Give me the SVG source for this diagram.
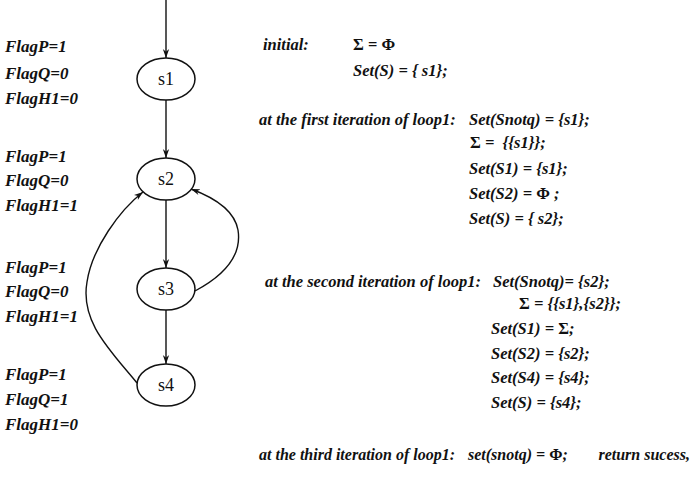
<svg xmlns="http://www.w3.org/2000/svg" width="699" height="482" viewBox="0 0 699 482">
<style>
.flag{font-family:'Liberation Serif','Times New Roman',serif;font-style:italic;font-weight:bold;font-size:17px;fill:#111}
.t{font-family:'Liberation Serif','Times New Roman',serif;font-style:italic;font-weight:bold;font-size:16.5px;fill:#111}
.t3{font-size:16px}
.sym{font-style:normal;font-weight:bold}
.node ellipse{fill:#fff;stroke:#111;stroke-width:1.5}
.node text{font-family:'Liberation Serif','Times New Roman',serif;font-size:18px;fill:#111;text-anchor:middle}
.edge{fill:none;stroke:#111;stroke-width:1.4;marker-end:url(#ah)}
</style>
<defs>
<marker id="ah" viewBox="0 0 10 10" refX="10" refY="5" markerWidth="9" markerHeight="9" markerUnits="userSpaceOnUse" orient="auto">
<path d="M0,1.5 L10,5 L0,8.5 L3,5 Z" fill="#111"/>
</marker>
</defs>
<g id="connectors">
<path class="edge" d="M166,0 L166,58"/>
<path class="edge" d="M166,100 L166,158"/>
<path class="edge" d="M166,200 L166,268"/>
<path class="edge" d="M166,310 L166,364"/>
<path class="edge" d="M137,383 C110,350 80,322 87,282 C92,248 120,210 143,192"/>
<path class="edge" d="M195,291 C225,275 242,255 238,230 C234,208 210,196 191,189"/>
</g>
<g id="s1" class="node"><ellipse cx="166" cy="79" rx="29" ry="21"/><text x="166" y="85">s1</text></g>
<g id="s2" class="node"><ellipse cx="166" cy="179" rx="29" ry="21"/><text x="166" y="185">s2</text></g>
<g id="s3" class="node"><ellipse cx="166" cy="289" rx="29" ry="21"/><text x="166" y="295">s3</text></g>
<g id="s4" class="node"><ellipse cx="166" cy="385" rx="29" ry="21"/><text x="166" y="391">s4</text></g>
<g id="flags">
<text class="flag" x="5" y="52">FlagP=1</text>
<text class="flag" x="5" y="79">FlagQ=0</text>
<text class="flag" x="5" y="104">FlagH1=0</text>
<text class="flag" x="5" y="162">FlagP=1</text>
<text class="flag" x="5" y="186">FlagQ=0</text>
<text class="flag" x="5" y="211">FlagH1=1</text>
<text class="flag" x="5" y="273">FlagP=1</text>
<text class="flag" x="5" y="297">FlagQ=0</text>
<text class="flag" x="5" y="322">FlagH1=1</text>
<text class="flag" x="5" y="380">FlagP=1</text>
<text class="flag" x="5" y="405">FlagQ=1</text>
<text class="flag" x="5" y="430">FlagH1=0</text>
</g>
<g id="trace">
<text class="t" x="263" y="50">initial:</text>
<text class="t" x="353" y="50"><tspan class="sym">Σ = Φ</tspan></text>
<text class="t" x="353" y="76">Set(S) = { s1};</text>
<text class="t" x="259" y="125">at the first iteration of loop1:</text>
<text class="t" x="469" y="125">Set(Snotq) = {s1};</text>
<text class="t" x="470" y="148" xml:space="preserve"><tspan class="sym">Σ</tspan> =  {{s1}};</text>
<text class="t" x="469" y="174">Set(S1) = {s1};</text>
<text class="t" x="469" y="199">Set(S2) = <tspan class="sym">Φ</tspan> ;</text>
<text class="t" x="469" y="224">Set(S) = { s2};</text>
<text class="t" x="265" y="287">at the second iteration of loop1:</text>
<text class="t" x="493" y="287">Set(Snotq)= {s2};</text>
<text class="t" x="519" y="309"><tspan class="sym">Σ</tspan> = {{s1},{s2}};</text>
<text class="t" x="491" y="334">Set(S1) = <tspan class="sym">Σ</tspan>;</text>
<text class="t" x="491" y="359">Set(S2) = {s2};</text>
<text class="t" x="491" y="383">Set(S4) = {s4};</text>
<text class="t" x="491" y="408">Set(S) = {s4};</text>
<text class="t t3" x="259" y="460">at the third iteration of loop1:</text>
<text class="t t3" x="468" y="460">set(snotq) = <tspan class="sym">Φ</tspan>;</text>
<text class="t t3" x="690" y="460" text-anchor="end">return sucess,</text>
</g>
</svg>
